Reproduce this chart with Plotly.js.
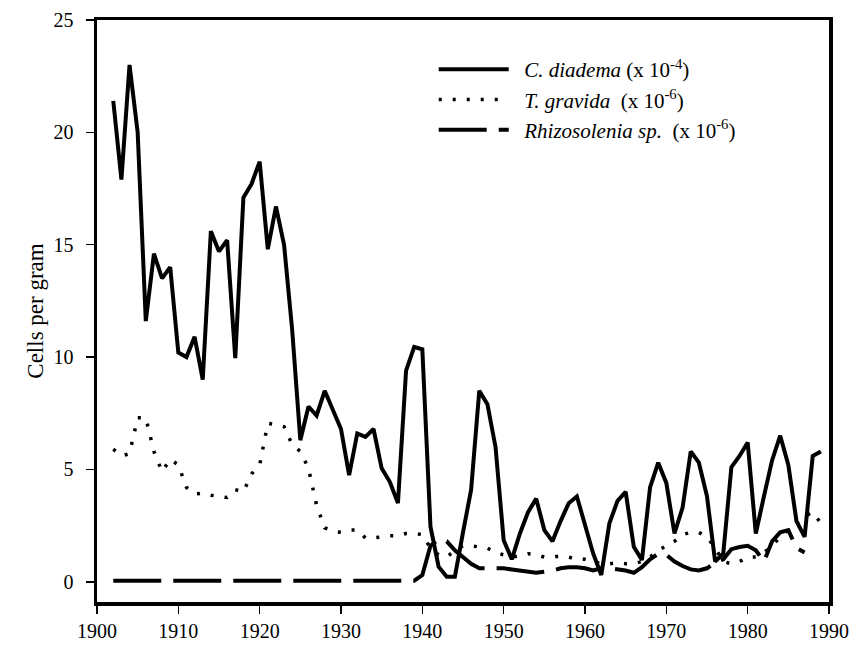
<!DOCTYPE html>
<html>
<head>
<meta charset="utf-8">
<script src="https://cdn.plot.ly/plotly-3.0.1.min.js"></script>
<style>html,body{margin:0;padding:0;background:#fff;}#chart{width:851px;height:646px;}</style>
</head>
<body>
<div id="chart"></div>
<script>
// C. diadema (x 10^-4), yearly 1902-1989
const diademaYears = [1902,1903,1904,1905,1906,1907,1908,1909,1910,1911,1912,1913,1914,1915,1916,1917,1918,1919,1920,1921,1922,1923,1924,1925,1926,1927,1928,1929,1930,1931,1932,1933,1934,1935,1936,1937,1938,1939,1940,1941,1942,1943,1944,1945,1946,1947,1948,1949,1950,1951,1952,1953,1954,1955,1956,1957,1958,1959,1960,1961,1962,1963,1964,1965,1966,1967,1968,1969,1970,1971,1972,1973,1974,1975,1976,1977,1978,1979,1980,1981,1982,1983,1984,1985,1986,1987,1988,1989];
const diademaValues = [21.4,17.9,23.0,20.0,11.6,14.6,13.5,14.0,10.2,10.0,10.9,9.0,15.6,14.7,15.2,9.95,17.1,17.7,18.7,14.8,16.7,15.0,11.2,6.3,7.8,7.4,8.5,7.7,6.8,4.75,6.6,6.45,6.8,5.05,4.45,3.5,9.4,10.45,10.35,2.45,0.67,0.22,0.22,2.2,4.1,8.5,7.9,6.0,1.85,1.0,2.15,3.1,3.7,2.3,1.8,2.7,3.5,3.8,2.45,1.26,0.3,2.6,3.6,4.0,1.56,0.97,4.2,5.3,4.4,2.15,3.3,5.8,5.3,3.8,0.9,1.26,5.1,5.6,6.2,2.15,3.8,5.4,6.5,5.2,2.7,2.0,5.6,5.8];

// T. gravida (x 10^-6)
const gravidaYears = [1902,1903,1904,1905,1906,1907,1908,1909,1910,1911,1912,1913,1914,1915,1916,1917,1918,1919,1920,1921,1922,1923,1924,1925,1926,1927,1928,1929,1930,1931,1932,1933,1934,1935,1936,1937,1938,1939,1940,1941,1942,1943,1944,1945,1946,1947,1948,1949,1950,1951,1952,1953,1954,1955,1956,1957,1958,1959,1960,1961,1962,1963,1964,1965,1966,1967,1968,1969,1970,1971,1972,1973,1974,1975,1976,1977,1978,1979,1980,1981,1982,1983,1984,1985,1986,1987,1988,1989];
const gravidaValues = [5.9,5.6,5.7,7.3,7.3,5.8,4.9,5.45,5.2,4.2,3.9,3.95,3.85,3.8,3.75,4.1,4.0,4.8,5.2,7.05,7.0,6.9,6.1,5.8,5.05,3.4,2.4,2.25,2.2,2.3,2.3,1.95,1.95,2.0,2.05,2.05,2.15,2.15,2.1,1.5,1.2,1.1,1.4,1.6,1.6,1.55,1.5,1.3,1.2,1.1,1.15,1.25,1.2,1.1,1.1,1.15,1.1,1.0,1.0,0.9,0.8,0.8,0.85,0.8,0.8,0.9,1.1,1.4,1.6,1.8,2.1,2.2,2.2,2.0,1.5,0.9,0.8,0.9,1.1,1.1,1.3,1.6,2.0,2.3,2.6,2.9,3.1,2.6];

// Rhizosolenia sp. (x 10^-6), 1902-1987
const rhizoYears = [1902,1903,1904,1905,1906,1907,1908,1909,1910,1911,1912,1913,1914,1915,1916,1917,1918,1919,1920,1921,1922,1923,1924,1925,1926,1927,1928,1929,1930,1931,1932,1933,1934,1935,1936,1937,1938,1939,1940,1941,1942,1943,1944,1945,1946,1947,1948,1949,1950,1951,1952,1953,1954,1955,1956,1957,1958,1959,1960,1961,1962,1963,1964,1965,1966,1967,1968,1969,1970,1971,1972,1973,1974,1975,1976,1977,1978,1979,1980,1981,1982,1983,1984,1985,1986,1987];
const rhizoValues = [0.05,0.05,0.05,0.05,0.05,0.05,0.05,0.05,0.05,0.05,0.05,0.05,0.05,0.05,0.05,0.05,0.05,0.05,0.05,0.05,0.05,0.05,0.05,0.05,0.05,0.05,0.05,0.05,0.05,0.05,0.05,0.05,0.05,0.05,0.05,0.05,0.05,0.05,0.3,1.6,1.9,1.8,1.4,1.1,0.8,0.6,0.6,0.6,0.6,0.55,0.5,0.45,0.4,0.45,0.5,0.6,0.65,0.65,0.6,0.5,0.6,0.6,0.55,0.5,0.4,0.65,1.0,1.25,1.2,0.9,0.7,0.55,0.5,0.6,0.85,1.0,1.45,1.55,1.6,1.4,0.9,1.8,2.2,2.3,1.5,1.3];

const seriesNames = [
  '\u00a0\u00a0<i>C. diadema</i> (x 10<sup>-4</sup>)',
  '\u00a0\u00a0<i>T. gravida</i>  (x 10<sup>-6</sup>)',
  '\u00a0\u00a0<i>Rhizosolenia sp.</i>  (x 10<sup>-6</sup>)'
];
const xTicks = [1900,1910,1920,1930,1940,1950,1960,1970,1980,1990];
const yTicks = [0,5,10,15,20,25];

const serif = '"Liberation Serif", "Times New Roman", Times, serif';

const traces = [
  {x: diademaYears, y: diademaValues, name: seriesNames[0], type: 'scatter', mode: 'lines',
   line: {color: '#000', width: 4}},
  {x: gravidaYears, y: gravidaValues, name: seriesNames[1], type: 'scatter', mode: 'lines',
   line: {color: '#000', width: 3.5, dash: '3px,11px'}},
  {x: rhizoYears, y: rhizoValues, name: seriesNames[2], type: 'scatter', mode: 'lines',
   line: {color: '#000', width: 4, dash: '48px,12px'}}
];

const axisCommon = {
  showline: true, linecolor: '#000', linewidth: 3.5, mirror: true,
  showgrid: false, zeroline: false,
  ticks: 'outside', ticklen: 8, tickwidth: 1.5, tickcolor: '#000',
  tickfont: {family: serif, size: 20, color: '#000'}
};

const layout = {
  width: 851, height: 646,
  margin: {l: 97, r: 22, t: 20, b: 44},
  paper_bgcolor: '#fff', plot_bgcolor: '#fff',
  font: {family: serif, color: '#000'},
  showlegend: true,
  legend: {
    x: 0.46, y: 0.95, xanchor: 'left', yanchor: 'top',
    bgcolor: 'rgba(0,0,0,0)', borderwidth: 0,
    font: {family: serif, size: 21, color: '#000'},
    itemwidth: 70, tracegroupgap: 0
  },
  xaxis: Object.assign({}, axisCommon, {
    range: [1900, 1990], tickvals: xTicks, ticktext: xTicks.map(String)
  }),
  yaxis: Object.assign({}, axisCommon, {
    range: [-0.9, 25], tickvals: yTicks, ticktext: yTicks.map(String),
    ticklabelstandoff: 8,
    title: {text: 'Cells per gram', font: {family: serif, size: 23, color: '#000'}, standoff: 4}
  })
};

Plotly.newPlot('chart', traces, layout, {staticPlot: true, displayModeBar: false});
</script>
</body>
</html>
